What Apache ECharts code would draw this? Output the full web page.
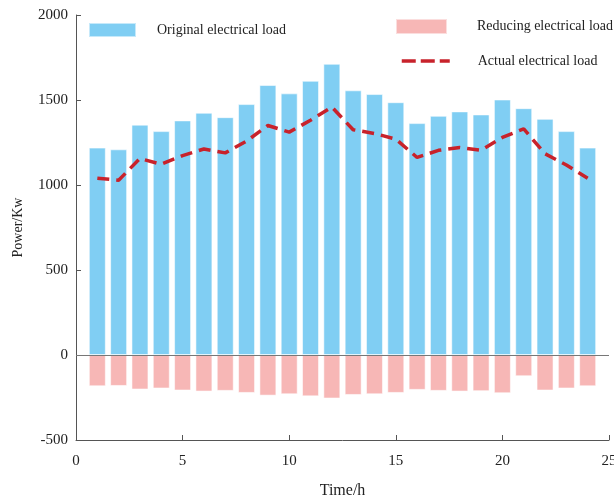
<!DOCTYPE html>
<html>
<head>
<meta charset="utf-8">
<script src="https://cdn.jsdelivr.net/npm/echarts@6/dist/echarts.min.js"></script>
<style>html,body{margin:0;padding:0;background:#fff;}#c{width:614px;height:500px;}</style>
</head>
<body>
<div id="c"></div>
<script>
const hours = [1,2,3,4,5,6,7,8,9,10,11,12,13,14,15,16,17,18,19,20,21,22,23,24];
const originalLoad = [1220,1210,1355,1317,1380,1425,1399,1476,1588,1539,1613,1713,1557,1535,1487,1364,1407,1433,1415,1503,1452,1389,1317,1220];
const reducingLoad = [-184,-182,-203,-197,-209,-215,-211,-223,-239,-231,-243,-256,-235,-231,-223,-205,-211,-215,-213,-225,-125,-209,-197,-184];
const actualLoad = [1040,1028,1156,1122,1173,1212,1189,1258,1350,1311,1381,1459,1325,1303,1270,1162,1204,1220,1204,1280,1330,1184,1118,1040];
const xTicks = {min:0, max:25, interval:5};
const yTicks = {min:-500, max:2000, interval:500};

const font = "'Liberation Serif','Times New Roman',serif";
const pair = arr => hours.map((h,i)=>[h, arr[i]]);

const chart = echarts.init(document.getElementById('c'), null, {renderer:'canvas'});
chart.setOption({
  animation:false,
  backgroundColor:'#fff',
  textStyle:{fontFamily:font},
  grid:{left:76, right:5, top:15, bottom:60, containLabel:false, outerBoundsMode:'none'},
  legend:[
    {data:[{name:'Original electrical load', icon:'rect'}], left:88, top:22, padding:0, itemWidth:47, itemHeight:14,
     textStyle:{fontFamily:font, fontSize:14, color:'#222', padding:[0,0,0,16]}},
    {data:[{name:'Reducing electrical load', icon:'rect'}], left:395, top:18, padding:0, itemWidth:51, itemHeight:15,
     textStyle:{fontFamily:font, fontSize:14, color:'#222', padding:[0,0,0,25]}},
    {data:['Actual electrical load'], left:400, top:54, padding:0, itemWidth:48, itemHeight:14,
     itemStyle:{opacity:0}, lineStyle:{type:[14,5], width:3.5},
     textStyle:{fontFamily:font, fontSize:14, color:'#222', padding:[0,0,0,23]}}
  ],
  xAxis:{type:'value', min:xTicks.min, max:xTicks.max, interval:xTicks.interval,
    name:'Time/h', nameLocation:'middle', nameGap:43,
    nameTextStyle:{fontFamily:font, fontSize:16, color:'#222'},
    axisLine:{onZero:false, lineStyle:{color:'#555', width:1}},
    axisTick:{inside:true, length:5, lineStyle:{color:'#555'}},
    axisLabel:{fontFamily:font, fontSize:15, color:'#222', margin:14},
    splitLine:{show:false}},
  yAxis:{type:'value', min:yTicks.min, max:yTicks.max, interval:yTicks.interval,
    name:'Power/Kw', nameLocation:'middle', nameGap:51,
    nameTextStyle:{fontFamily:font, fontSize:14, color:'#222'},
    axisLine:{show:true, lineStyle:{color:'#555', width:1}},
    axisTick:{show:true, inside:true, length:5, lineStyle:{color:'#555'}},
    axisLabel:{fontFamily:font, fontSize:15, color:'#222', margin:8, formatter:v=>String(v)},
    splitLine:{show:false}},
  series:[
    {name:'Original electrical load', type:'bar', data:pair(originalLoad), barWidth:17, barGap:'-100%',
     itemStyle:{color:'#80CEF3', borderColor:'rgba(255,255,255,0.55)', borderWidth:1},
     markLine:{silent:true, symbol:'none', label:{show:false},
       lineStyle:{color:'#777', width:1.2, type:'solid'}, data:[{yAxis:0}]}},
    {name:'Reducing electrical load', type:'bar', data:pair(reducingLoad), barWidth:17, barGap:'-100%',
     itemStyle:{color:'#F7B7B6', borderColor:'rgba(255,255,255,0.55)', borderWidth:1}},
    {name:'Actual electrical load', type:'line', data:pair(actualLoad), symbol:'none',
     lineStyle:{color:'#C8222B', width:3.5, type:[12,7]}, itemStyle:{color:'#C8222B'}, z:5}
  ]
});
</script>
</body>
</html>
